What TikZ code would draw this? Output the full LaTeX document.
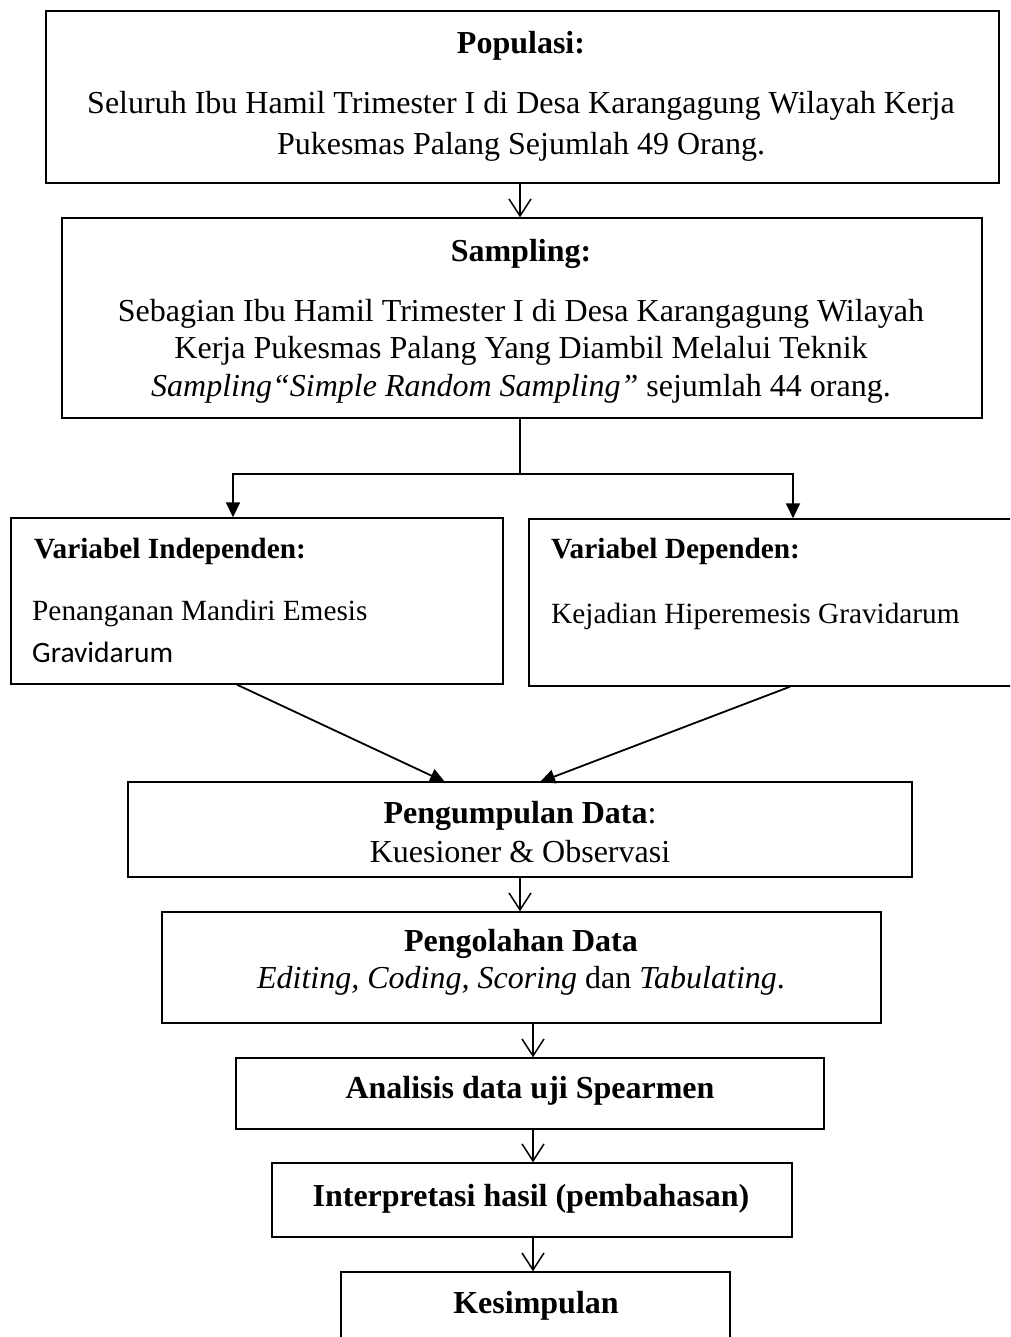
\documentclass[tikz,border=0pt]{standalone}
\usepackage{fontspec}
\setmainfont{Liberation Serif}
\newfontfamily\calib{Carlito}
\usetikzlibrary{arrows.meta}
\tikzset{
  box/.style={draw, line width=1.4pt, inner sep=0pt},
  txt/.style={font=\fontsize{32}{38}\selectfont, inner sep=0pt, align=center},
  btxt/.style={font=\fontsize{32}{38}\selectfont\bfseries, inner sep=0pt, align=center},
  ltxt/.style={font=\fontsize{29.3}{36}\selectfont, inner sep=0pt, anchor=west, align=left},
  openarr/.style={line width=1.5pt, -{Straight Barb[length=17pt,width=22pt,line width=1.5pt]}},
  triarr/.style={line width=1.8pt, -{Triangle[length=15pt,width=14pt]}},
}
\begin{document}
\begin{tikzpicture}[x=1pt,y=-1pt]
\clip (0,0) rectangle (1010,1337);
\fill[white] (0,0) rectangle (1010,1337);
% boxes
\node[box, minimum width=953pt, minimum height=172pt] (pop) at (522.5,97) {};
\node[box, minimum width=920pt, minimum height=200pt] (samp) at (522,318) {};
\node[box, minimum width=492pt, minimum height=166pt] (ind) at (257,601) {};
\node[box, minimum width=510pt, minimum height=167pt] (dep) at (784,602.5) {};
\node[box, minimum width=784pt, minimum height=95pt] (kump) at (520,829.5) {};
\node[box, minimum width=719pt, minimum height=111pt] (olah) at (521.5,967.5) {};
\node[box, minimum width=588pt, minimum height=71pt] (anal) at (530,1093.5) {};
\node[box, minimum width=520pt, minimum height=74pt] (interp) at (532,1200) {};
\node[box, minimum width=389pt, minimum height=100pt] (kes) at (535.5,1322) {};
% texts
\node[btxt] (t1) at (521,46) {Populasi:};
\node[txt, font=\fontsize{32}{41}\selectfont] (t2) at (521,126) {Seluruh Ibu Hamil Trimester I di Desa Karangagung Wilayah Kerja\\Pukesmas Palang Sejumlah 49 Orang.};
\node[btxt] (t3) at (521,254) {Sampling:};
\node[txt, font=\fontsize{32}{37.5}\selectfont] (t4) at (521,351) {Sebagian Ibu Hamil Trimester I di Desa Karangagung Wilayah\\Kerja Pukesmas Palang Yang Diambil Melalui Teknik\\\textit{Sampling“Simple Random Sampling”} sejumlah 44 orang.};
\node[ltxt, font=\fontsize{29.3}{36}\selectfont\bfseries] (t5) at (34,551) {Variabel Independen:};
\node[ltxt] (t6) at (32,613) {Penanganan Mandiri Emesis};
\node[ltxt, font=\fontsize{29.5}{36}\calib\selectfont] (t7) at (32,652) {Gravidarum};
\node[ltxt, font=\fontsize{29.3}{36}\selectfont\bfseries] (t8) at (551,551) {Variabel Dependen:};
\node[ltxt] (t9) at (551,616) {Kejadian Hiperemesis Gravidarum};
\node[txt] (t10) at (520,816) {\textbf{Pengumpulan Data}:};
\node[txt] (t11) at (520,852) {Kuesioner \& Observasi};
\node[btxt] (t12) at (521,944) {Pengolahan Data};
\node[txt] (t13) at (521,981) {\textit{Editing, Coding, Scoring} dan \textit{Tabulating}.};
\node[btxt] (t14) at (530,1091) {Analisis data uji Spearmen};
\node[btxt] (t15) at (531,1199) {Interpretasi hasil (pembahasan)};
\node[btxt] (t16) at (536,1306) {Kesimpulan};
% connectors
\coordinate (br) at (520,474);
\draw[openarr] (pop.south -| 520,0) -- (samp.north -| 520,0);
\draw[line width=1.3pt] (samp.south -| br) -- (br);
\draw[triarr] (br) -| (ind.north -| 233,0);
\draw[triarr] (br) -| (dep.north -| 793,0);
\draw[triarr] (ind.south -| 237,0) -- (445,782);
\draw[triarr] (dep.south -| 790,0) -- (540,782);
\draw[openarr] (kump.south -| 520,0) -- (olah.north -| 520,0);
\draw[openarr] (olah.south -| 533,0) -- (anal.north -| 533,0);
\draw[openarr] (anal.south -| 533,0) -- (interp.north -| 533,0);
\draw[openarr] (interp.south -| 533,0) -- (kes.north -| 533,0);
\end{tikzpicture}
\end{document}
